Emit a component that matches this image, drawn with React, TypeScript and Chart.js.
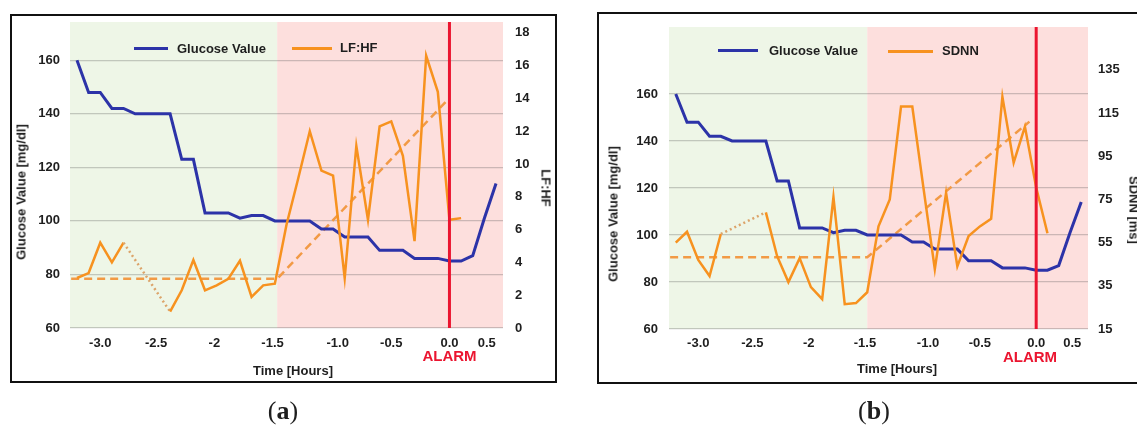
import React, { useEffect, useRef } from 'react';
import { Chart, registerables } from 'chart.js';

Chart.register(...registerables);

// ---------------- data ----------------
const timeHours = [
  -3.2, -3.1, -3.0, -2.9, -2.8, -2.7, -2.6, -2.5, -2.4, -2.3, -2.2, -2.1, -2.0,
  -1.9, -1.8, -1.7, -1.6, -1.5, -1.4, -1.3, -1.2, -1.1, -1.0, -0.9, -0.8, -0.7,
  -0.6, -0.5, -0.4, -0.3, -0.2, -0.1, 0.0, 0.1, 0.2, 0.3, 0.4,
];
const glucoseValue = [
  160, 148, 148, 142, 142, 140, 140, 140, 140, 123, 123, 103, 103, 103, 101, 102,
  102, 100, 100, 100, 100, 97, 97, 94, 94, 94, 89, 89, 89, 86, 86, 86, 85, 85, 87,
  101, 114,
];
const lfhfRatio = [
  3.05, 3.35, 5.2, 4.0, 5.2, null, null, null, 1.0, 2.3, 4.15, 2.3, 2.6, 3.0, 4.1,
  1.9, 2.6, 2.7, 6.3, 9.1, 12.0, 9.6, 9.3, 3.05, 11.1, 6.6, 12.3, 12.6, 10.5, 5.3,
  16.6, 14.4, 6.6, 6.7,
];
const sdnnMs = [
  55, 60, 47, 39.5, 59, null, null, null, 69, 48.7, 36.7, 47.8, 34.4, 28.8, 76,
  26.5, 27, 32, 62.5, 75, 118, 118, 80, 42.7, 78, 44, 58, 62.5, 66, 122.5, 92,
  108.7, 80.5, 59.3,
];
const lfhfTrendTimes = [-3.25, -1.48, -0.03];
const lfhfTrendValues = [3.0, 3.0, 13.8];
const sdnnTrendTimes = [-3.25, -1.5, -0.06];
const sdnnTrendValues = [48.2, 48.2, 111];

const xTickAt = [-3.0, -2.52, -2.02, -1.52, -0.96, -0.5, 0.0, 0.32];
const xTickLabels = ['-3.0', '-2.5', '-2', '-1.5', '-1.0', '-0.5', '0.0', '0.5'];
const glucoseTicks = [60, 80, 100, 120, 140, 160];
const lfhfTicks = [0, 2, 4, 6, 8, 10, 12, 14, 16, 18];
const sdnnTicks = [15, 35, 55, 75, 95, 115, 135];
const alarmTime = 0;

// ---------------- styles ----------------
const FONT = '"Liberation Sans", Arial, Helvetica, sans-serif';
const SERIF = '"Liberation Serif", "Times New Roman", serif';
const INK = '#1e1e1e';
const BLUE = '#2c33a8';
const ORANGE = '#f7921f';
const ORANGE_TREND = '#f29a45';
const ORANGE_GAP = '#dca46a';
const GREEN = '#eef6e7';
const PINK = '#fddfdd';
const RED = '#eb1530';
const GRID = 'rgba(90,90,90,0.30)';

const tickFont = { family: FONT, size: 13, weight: 'bold' as const };

const zonesPlugin = {
  id: 'zones',
  beforeDraw(chart: any, _a: any, opts: any) {
    const { ctx, chartArea: a } = chart;
    const s = chart.scales.x.getPixelForValue(opts.riskStart);
    ctx.save();
    ctx.fillStyle = GREEN;
    ctx.fillRect(a.left, a.top, s - a.left, a.bottom - a.top);
    ctx.fillStyle = PINK;
    ctx.fillRect(s, a.top, a.right - s, a.bottom - a.top);
    ctx.restore();
  },
  afterDatasetsDraw(chart: any, _a: any, opts: any) {
    const { ctx, chartArea: a } = chart;
    const px = chart.scales.x.getPixelForValue(opts.alarm);
    ctx.save();
    ctx.strokeStyle = RED;
    ctx.lineWidth = 3;
    ctx.beginPath();
    ctx.moveTo(px, a.top);
    ctx.lineTo(px, a.bottom);
    ctx.stroke();
    ctx.restore();
  },
};

const gapDash = (ctx: any) => (ctx.p0.skip || ctx.p1.skip ? [2, 3] : undefined);
const gapColor = (ctx: any) => (ctx.p0.skip || ctx.p1.skip ? ORANGE_GAP : undefined);

const noPadding = (s: any) => {
  s.paddingTop = 0;
  s.paddingBottom = 0;
  s.paddingLeft = 0;
  s.paddingRight = 0;
};

function buildChart(canvas: HTMLCanvasElement, p: any) {
  const hrv = p.hrv as (number | null)[];
  return new Chart(canvas, {
    type: 'line',
    data: {
      datasets: [
        {
          label: p.hrvLabel,
          data: hrv.map((v, i) => ({ x: timeHours[i], y: v })),
          yAxisID: 'yR',
          borderColor: ORANGE,
          borderWidth: 2.5,
          pointRadius: 0,
          tension: 0,
          spanGaps: true,
          segment: { borderDash: gapDash, borderColor: gapColor },
        },
        {
          label: 'Glucose Value',
          data: glucoseValue.map((v, i) => ({ x: timeHours[i], y: v })),
          yAxisID: 'yL',
          borderColor: BLUE,
          borderWidth: 3,
          pointRadius: 0,
          tension: 0,
        },
        {
          label: p.hrvLabel + ' trend',
          data: p.trendTimes.map((t: number, i: number) => ({ x: t, y: p.trendValues[i] })),
          yAxisID: 'yR',
          borderColor: ORANGE_TREND,
          borderWidth: 2.5,
          borderDash: [8, 5],
          pointRadius: 0,
          tension: 0,
        },
      ] as any,
    },
    options: {
      responsive: false,
      maintainAspectRatio: false,
      animation: false,
      events: [],
      layout: { padding: { top: p.padTop, left: 0, right: 0, bottom: 0 } },
      plugins: {
        legend: { display: false },
        tooltip: { enabled: false },
        zones: { riskStart: p.riskStart, alarm: alarmTime },
      } as any,
      scales: {
        x: {
          type: 'linear',
          min: -3.26,
          max: 0.46,
          afterBuildTicks: (s: any) => { s.ticks = xTickAt.map((v) => ({ value: v })); },
          afterFit: (s: any) => { s.height = p.xH; noPadding(s); },
          grid: { display: false, drawTicks: false },
          border: { display: false },
          ticks: {
            autoSkip: false,
            maxRotation: 0,
            padding: p.xPad,
            font: tickFont,
            color: INK,
            callback: (_v: any, i: number) => xTickLabels[i],
          },
        },
        yL: {
          type: 'linear',
          position: 'left',
          min: 60,
          max: p.leftMax,
          afterBuildTicks: (s: any) => { s.ticks = glucoseTicks.map((v) => ({ value: v })); },
          afterFit: (s: any) => { s.width = p.leftW; noPadding(s); },
          grid: { color: GRID, lineWidth: 1.2, drawTicks: false },
          border: { display: false },
          ticks: { padding: p.leftPad, font: tickFont, color: INK },
        },
        yR: {
          type: 'linear',
          position: 'right',
          min: p.rightMin,
          max: p.rightMax,
          afterBuildTicks: (s: any) => { s.ticks = p.rightTicks.map((v: number) => ({ value: v })); },
          afterFit: (s: any) => { s.width = p.rightW; noPadding(s); },
          grid: { display: false, drawTicks: false },
          border: { display: false },
          ticks: { padding: p.rightPad, font: tickFont, color: INK },
        },
      } as any,
    },
    plugins: [zonesPlugin],
  });
}

function Label(props: any) {
  const { x, y, rot = 0, size = 13, color = INK, family = FONT, weight = 700, children } = props;
  return (
    <div
      style={{
        position: 'absolute',
        left: x,
        top: y,
        transform: `translate(-50%,-50%) rotate(${rot}deg)`,
        whiteSpace: 'nowrap',
        fontFamily: family,
        fontSize: size,
        fontWeight: weight,
        color,
        lineHeight: 1,
        pointerEvents: 'none',
      }}
    >
      {children}
    </div>
  );
}

function LegendItem(props: any) {
  const { x1, x2, y, tx, color, text } = props;
  return (
    <>
      <div style={{ position: 'absolute', left: x1, top: y - 1.5, width: x2 - x1, height: 3, background: color }} />
      <div
        style={{
          position: 'absolute',
          left: tx,
          top: y - 7,
          fontFamily: FONT,
          fontSize: 13,
          fontWeight: 700,
          color: INK,
          lineHeight: '14px',
          whiteSpace: 'nowrap',
        }}
      >
        {text}
      </div>
    </>
  );
}

export default function App() {
  const refA = useRef<HTMLCanvasElement>(null);
  const refB = useRef<HTMLCanvasElement>(null);

  useEffect(() => {
    const a = buildChart(refA.current!, {
      hrv: lfhfRatio,
      hrvLabel: 'LF:HF',
      trendTimes: lfhfTrendTimes,
      trendValues: lfhfTrendValues,
      riskStart: -1.48,
      padTop: 6,
      xH: 52,
      xPad: 8,
      leftMax: 174.3,
      leftW: 58,
      leftPad: 10,
      rightMin: 0,
      rightMax: 18.66,
      rightTicks: lfhfTicks,
      rightW: 51,
      rightPad: 12,
    });
    const b = buildChart(refB.current!, {
      hrv: sdnnMs,
      hrvLabel: 'SDNN',
      trendTimes: sdnnTrendTimes,
      trendValues: sdnnTrendValues,
      riskStart: -1.5,
      padTop: 13,
      xH: 53,
      xPad: 7,
      leftMax: 188.5,
      leftW: 70,
      leftPad: 11,
      rightMin: 15,
      rightMax: 154.8,
      rightTicks: sdnnTicks,
      rightW: 49,
      rightPad: 10,
    });
    return () => {
      a.destroy();
      b.destroy();
    };
  }, []);

  return (
    <div style={{ position: 'absolute', left: 0, top: 0, width: 1137, height: 427, overflow: 'hidden', background: '#fff' }}>
      {/* panel (a) */}
      <div style={{ position: 'absolute', left: 10, top: 14, width: 547, height: 369, border: '2px solid #111', boxSizing: 'border-box' }} />
      <canvas ref={refA} width={542} height={364} style={{ position: 'absolute', left: 12, top: 16 }} />
      <LegendItem x1={134} x2={168} y={48.5} tx={177} color={BLUE} text="Glucose Value" />
      <LegendItem x1={292} x2={332} y={48} tx={340} color={ORANGE} text="LF:HF" />
      <Label x={21} y={192} rot={-90}>Glucose Value [mg/dl]</Label>
      <Label x={546} y={188} rot={90}>LF:HF</Label>
      <Label x={293} y={370}>Time [Hours]</Label>
      <Label x={449.5} y={355} size={15} color={RED}>ALARM</Label>

      {/* panel (b) */}
      <div style={{ position: 'absolute', left: 597, top: 12, width: 554, height: 372, border: '2px solid #111', boxSizing: 'border-box' }} />
      <canvas ref={refB} width={538} height={368} style={{ position: 'absolute', left: 599, top: 14 }} />
      <LegendItem x1={718} x2={758} y={50.5} tx={769} color={BLUE} text="Glucose Value" />
      <LegendItem x1={888} x2={933} y={51} tx={942} color={ORANGE} text="SDNN" />
      <Label x={613} y={214} rot={-90}>Glucose Value [mg/dl]</Label>
      <Label x={1134} y={210} rot={90}>SDNN [ms]</Label>
      <Label x={897} y={368}>Time [Hours]</Label>
      <Label x={1030} y={356} size={15} color={RED}>ALARM</Label>

      {/* captions */}
      <Label x={283} y={411} size={26} weight={400} family={SERIF}>
        (<b>a</b>)
      </Label>
      <Label x={874} y={411} size={26} weight={400} family={SERIF}>
        (<b>b</b>)
      </Label>
    </div>
  );
}
